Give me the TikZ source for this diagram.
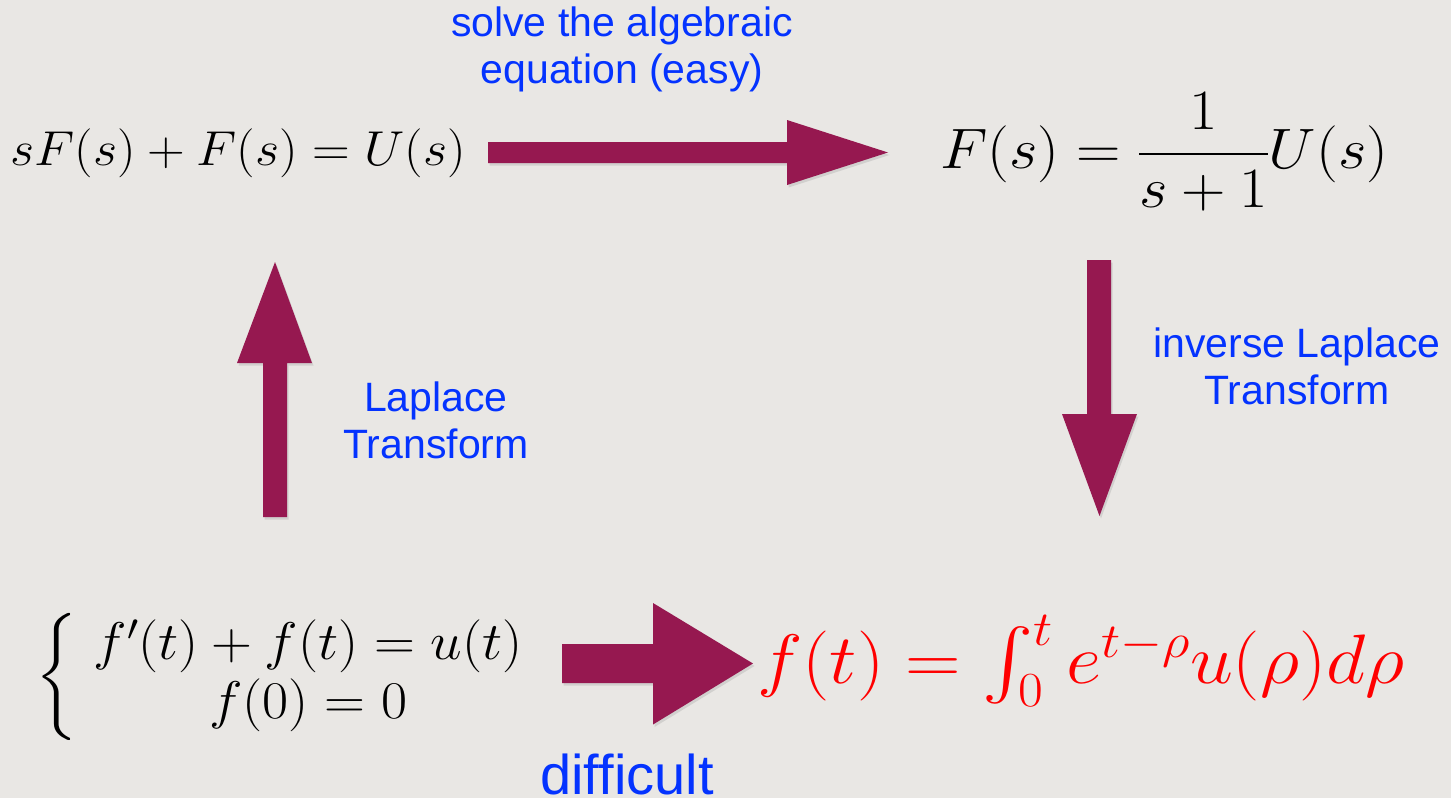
\RequirePackage{fix-cm}
\documentclass[tikz,border=0pt]{standalone}
\usepackage{fontspec}
\DeclareFontFamily{OMX}{cmex}{}
\DeclareFontShape{OMX}{cmex}{m}{n}{<-7.5>cmex7 <7.5-8.5>cmex8 <8.5-9.5>cmex9 <9.5->cmex10}{}
\newfontfamily\labfont{Liberation Sans}
\usetikzlibrary{shadows}
\definecolor{bgc}{RGB}{233,231,228}
\definecolor{arrowc}{RGB}{150,24,80}
\definecolor{bluec}{RGB}{4,51,255}
\definecolor{redc}{RGB}{255,0,0}
\tikzset{
  lab/.style={inner sep=0pt, text=bluec, align=center, font=\labfont\fontsize{41}{47}\selectfont},
  bigmath/.style={inner sep=0pt, text=black},
  barrow/.style={fill=arrowc, drop shadow={opacity=0.22, shadow xshift=1.5pt, shadow yshift=-2.5pt}},
}
\begin{document}
\begin{tikzpicture}[x=1pt,y=-1pt]
\fill[bgc] (0,0) rectangle (1451,798);
\useasboundingbox (0,0) rectangle (1451,798);

% equations
\node[bigmath, anchor=base west] (lt) at (10,165)
  {\scalebox{1.066}[1]{\fontsize{49}{59}\selectfont $sF(s)+F(s)=U(s)$}};
\node[bigmath, anchor=base west] (rt) at (940,168)
  {\scalebox{1.08}[1]{\fontsize{57}{68}\selectfont $\displaystyle F(s)=\frac{1}{s+1}U(s)$}};
\node[bigmath, anchor=west] (lb) at (35,677)
  {\scalebox{1.07}[1]{\fontsize{53}{59}\selectfont\arraycolsep=15pt $\left\{\begin{array}{c} f'(t)+f(t)=u(t)\\ f(0)=0\end{array}\right.$}};
\node[bigmath, text=redc, anchor=base west] (rb) at (757,683)
  {\scalebox{1.1}[1]{\fontsize{70}{82}\selectfont $f(t)=\int_0^t e^{t-\rho}u(\rho)d\rho$}};

% block arrows
\fill[barrow] (488,142) -- (787,142) -- (787,120) -- (888,152.5) -- (787,185) -- (787,163) -- (488,163) -- cycle;
\fill[barrow] (1087,260) -- (1111,260) -- (1111,414) -- (1137,414) -- (1099.5,516) -- (1062,414) -- (1087,414) -- cycle;
\fill[barrow] (263,517) -- (263,363) -- (237,363) -- (275,262) -- (312,363) -- (287,363) -- (287,517) -- cycle;
\fill[barrow] (562,644) -- (653,644) -- (653,603) -- (753,663.5) -- (653,724.5) -- (653,683) -- (562,683) -- cycle;

% labels (base anchor = baseline of last line)
\node[lab, anchor=base] (l1) at (622,83.3) {solve the algebraic\\equation (easy)};
\node[lab, anchor=base] (l2) at (436,458) {Laplace\\Transform};
\node[lab, anchor=base] (l3) at (1297,404) {inverse Laplace\\Transform};
\node[lab, anchor=base, font=\labfont\fontsize{56}{62}\selectfont] (l4) at (627,794) {difficult};
\end{tikzpicture}
\end{document}
